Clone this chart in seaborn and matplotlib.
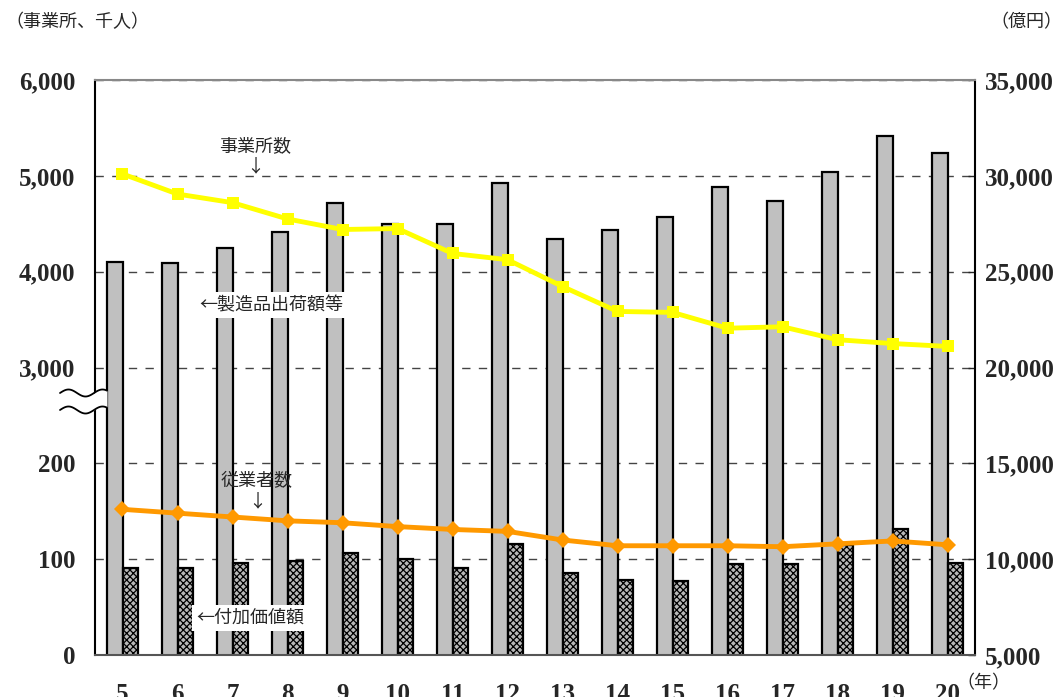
import numpy as np
import pandas as pd
import matplotlib
matplotlib.use("Agg")
import matplotlib.pyplot as plt
import seaborn as sns

# 年（平成）
years = ["5", "6", "7", "8", "9", "10", "11", "12", "13", "14", "15", "16", "17", "18", "19", "20"]
# 製造品出荷額等（億円）
shipments = [25520, 25470, 26250, 27080, 28590, 27500, 27480, 29640,
             26720, 27190, 27860, 29430, 28700, 30210, 32080, 31200]
# 付加価値額（億円）
value_added = [9530, 9530, 9790, 9900, 10310, 10000, 9530, 10780,
               9270, 8910, 8850, 9740, 9740, 10730, 11560, 9790]
# 事業所数
establishments = [5020, 4810, 4720, 4550, 4440, 4450, 4190, 4125,
                  3845, 3585, 3575, 3410, 3425, 3290, 3250, 3220]
# 従業者数（千人）
employees = [152, 148, 144, 140, 138, 134, 131, 129,
             120, 114, 114, 114, 113, 116, 119, 115]

left_tick_labels = ["0", "100", "200", "3,000", "4,000", "5,000", "6,000"]
right_ticks = [5000, 10000, 15000, 20000, 25000, 30000, 35000]

sns.set_style("white")
plt.rcParams["font.family"] = ["Noto Sans CJK JP", "DejaVu Sans"]
plt.rcParams["hatch.linewidth"] = 0.9

W, H = 1064, 697
fig = plt.figure(figsize=(W / 100, H / 100), dpi=100)
ax = fig.add_axes([95 / W, 42 / H, 880 / W, 575 / H])

# bars (right scale, 億円)
bars = pd.DataFrame({
    "year": years * 2,
    "series": ["製造品出荷額等"] * len(years) + ["付加価値額"] * len(years),
    "value": shipments + value_added,
})
sns.barplot(data=bars, x="year", y="value", hue="series", order=years,
            hue_order=["製造品出荷額等", "付加価値額"],
            palette=["#c0c0c0", "#b8b8b8"], width=0.58, gap=0,
            edgecolor="black", linewidth=1.6, legend=False, ax=ax)
for p in ax.containers[1]:
    p.set_hatch("xxxxx")

# lines (left broken scale)
ax2 = ax.twinx()
ax2.set_ylim(0, 6)
pos = np.arange(len(years))
est_scaled = [3 + (v - 3000) / 1000 for v in establishments]
emp_scaled = [v / 100 for v in employees]
sns.lineplot(x=pos, y=est_scaled, color="#ffff00", linewidth=3.5,
             marker="s", markersize=9, markeredgewidth=0, ax=ax2)
sns.lineplot(x=pos, y=emp_scaled, color="#ff9900", linewidth=3.5,
             marker="D", markersize=8, markeredgewidth=0, ax=ax2)

ax.set_ylim(5000, 35000)
ax.set_xlim(-0.5, len(years) - 0.5)
ax2.set_xlim(-0.5, len(years) - 0.5)
ax.set_yticks(right_ticks)
ax.set_yticklabels([f"{v:,}" for v in right_ticks])
ax.yaxis.tick_right()
ax.yaxis.grid(True, linestyle=(0, (6, 6)), color="#444444", linewidth=1)
ax.set_axisbelow(True)
ax.set_xlabel("")
ax.set_ylabel("")
ax.set_xticks(range(len(years)))
ax.set_xticklabels(years)
ax.set_xticks(np.arange(0.5, len(years) - 1, 1), minor=True)
ax.tick_params(axis="x", which="major", length=0, pad=20)
ax.tick_params(axis="x", which="minor", direction="in", length=7, width=1, color="#333333")
ax.tick_params(axis="y", direction="in", length=5, width=1, pad=7)

ax2.yaxis.tick_left()
ax2.set_yticks(range(len(left_tick_labels)))
ax2.set_yticklabels(left_tick_labels)
ax2.tick_params(axis="y", length=0, pad=14)
for s in ax2.spines.values():
    s.set_visible(False)

for lab in ax.get_xticklabels() + ax.get_yticklabels() + ax2.get_yticklabels():
    lab.set_fontfamily("Liberation Serif")
    lab.set_fontweight("bold")
    lab.set_fontsize(18)

for side in ["left", "right"]:
    ax.spines[side].set_color("black")
    ax.spines[side].set_linewidth(1.5)
ax.spines["bottom"].set_color("#555555")
ax.spines["bottom"].set_linewidth(1.5)
ax.spines["top"].set_color("#888888")
ax.spines["top"].set_linewidth(1.5)

# overlay in pixel coordinates for labels and the scale break
ov = fig.add_axes([0, 0, 1, 1], zorder=10)
ov.set_xlim(0, W)
ov.set_ylim(H, 0)
ov.axis("off")
ov.patch.set_alpha(0)

xs = np.linspace(60, 107, 80)
wave = 3.5 * np.sin((xs - 60) / 34 * 2 * np.pi)
ov.fill_between(xs, 393 - wave, 410 - wave, color="white", lw=0)
ov.plot(xs, 393 - wave, color="black", lw=1.3)
ov.plot(xs, 410 - wave, color="black", lw=1.3)

fs = 13
ov.text(5, 22, "（事業所、千人）", fontsize=fs, ha="left", va="center")
ov.text(1062, 22, "（億円）", fontsize=fs, ha="right", va="center")
ov.text(255, 146, "事業所数", fontsize=fs, ha="center", va="center")
ov.text(255, 166, "↓", fontsize=fs, ha="center", va="center")
ov.text(271, 305, "←製造品出荷額等", fontsize=fs, ha="center", va="center",
        bbox=dict(facecolor="white", edgecolor="none", pad=3))
ov.text(257, 481, "従業者数", fontsize=fs, ha="center", va="center")
ov.text(257, 501, "↓", fontsize=fs, ha="center", va="center")
ov.text(250, 618, "←付加価値額", fontsize=fs, ha="center", va="center",
        bbox=dict(facecolor="white", edgecolor="none", pad=3))
ov.text(983, 683, "（年）", fontsize=fs, ha="center", va="center")

fig.savefig("out.png", dpi=100)
